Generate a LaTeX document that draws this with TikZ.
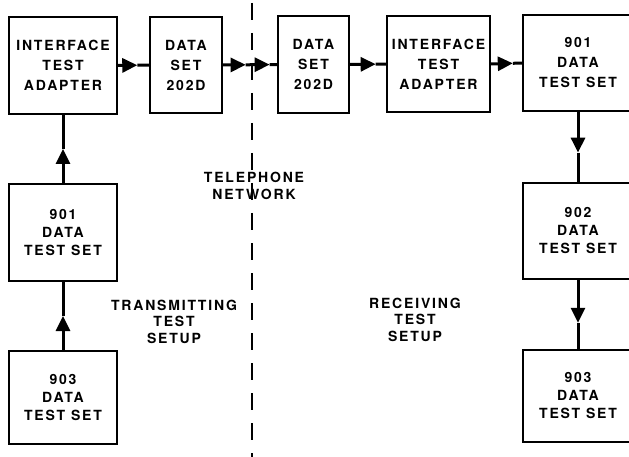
\documentclass[tikz,border=0pt]{standalone}
\usepackage{fontspec}
\setmainfont{TeX Gyre Heros}[LetterSpace=13]
\usetikzlibrary{arrows.meta}
\tikzset{
  box/.style={draw, line width=1.5pt, align=center, inner sep=0pt,
    minimum width=108pt, font=\fontsize{14}{18}\selectfont\bfseries},
  topbox/.style={box, font=\fontsize{14}{20}\selectfont\bfseries},
  lbl/.style={align=center, inner sep=0pt, font=\fontsize{14}{16.5}\selectfont\bfseries},
  conn/.style={line width=3pt},
  connhead/.style={line width=3pt, -{Triangle[length=15pt,width=14pt]}},
  divider/.style={line width=1.4pt, dash pattern=on 17pt off 13pt},
}
\begin{document}
\begin{tikzpicture}[x=1pt,y=-1pt]
\useasboundingbox (0,0) rectangle (629,457);
\clip (0,0) rectangle (629,457);
% top row
\node[topbox, minimum height=97pt] (ita1) at (63,65.5) {INTERFACE\\TEST\\ADAPTER};
\node[topbox, minimum width=72pt, minimum height=96pt] (ds1) at (186,65) {DATA\\SET\\202D};
\node[topbox, minimum width=71pt, minimum height=97pt] (ds2) at (313.5,64.5) {DATA\\SET\\202D};
\node[topbox, minimum width=103pt, minimum height=96pt] (ita2) at (438.5,64) {INTERFACE\\TEST\\ADAPTER};
\node[topbox, minimum width=110pt, minimum height=96pt] (t901r) at (578,63) {901\\DATA\\TEST SET};
% left column
\node[box, minimum height=97pt] (t901l) at (63,232.5) {901\\DATA\\TEST SET};
\node[box, minimum height=93pt] (t903l) at (63,397.5) {903\\DATA\\TEST SET};
% right column
\node[box, minimum width=110pt, minimum height=96pt] (t902r) at (578,231) {902\\DATA\\TEST SET};
\node[box, minimum width=110pt, minimum height=92pt] (t903r) at (578,396) {903\\DATA\\TEST SET};
% labels
\node[lbl] (tel) at (254,186) {TELEPHONE\\NETWORK};
\node[lbl] (tx) at (174,321.5) {TRANSMITTING\\TEST\\SETUP};
\node[lbl] (rx) at (415,319.5) {RECEIVING\\TEST\\SETUP};
% divider
\coordinate (dtop) at (252,3);
\coordinate (dbot) at (252,460);
\draw[divider] (dtop) -- (dbot);
% arrow-tip points on the connectors
\path (t903l.north) -- (t901l.south) coordinate[pos=0.5] (m1);
\path (t901l.north) -- (ita1.south) coordinate[pos=0.5] (m2);
\path (ita1.east) -- (ds1.west) coordinate[pos=0.62] (m3);
\path (ds1.east) -- (ds2.west) coordinate[pos=0.42] (m4a) coordinate[pos=0.86] (m4b);
\path (ds2.east) -- (ita2.west) coordinate[pos=0.71] (m5);
\path (ita2.east) -- (t901r.west) coordinate[pos=0.70] (m6);
\path (t901r.south) -- (t902r.north) coordinate[pos=0.58] (m7);
\path (t902r.south) -- (t903r.north) coordinate[pos=0.62] (m8);
% connectors
\draw[connhead] (t903l.north) -- (m1); \draw[conn] (m1) -- (t901l.south);
\draw[connhead] (t901l.north) -- (m2); \draw[conn] (m2) -- (ita1.south);
\draw[connhead] (ita1.east) -- (m3); \draw[conn] (m3) -- (ds1.west);
\draw[connhead] (ds1.east) -- (m4a); \draw[connhead] (m4a) -- (m4b); \draw[conn] (m4b) -- (ds2.west);
\draw[connhead] (ds2.east) -- (m5); \draw[conn] (m5) -- (ita2.west);
\draw[connhead] (ita2.east) -- (m6); \draw[conn] (m6) -- (t901r.west);
\draw[connhead] (t901r.south) -- (m7); \draw[conn] (m7) -- (t902r.north);
\draw[connhead] (t902r.south) -- (m8); \draw[conn] (m8) -- (t903r.north);
\end{tikzpicture}
\end{document}
